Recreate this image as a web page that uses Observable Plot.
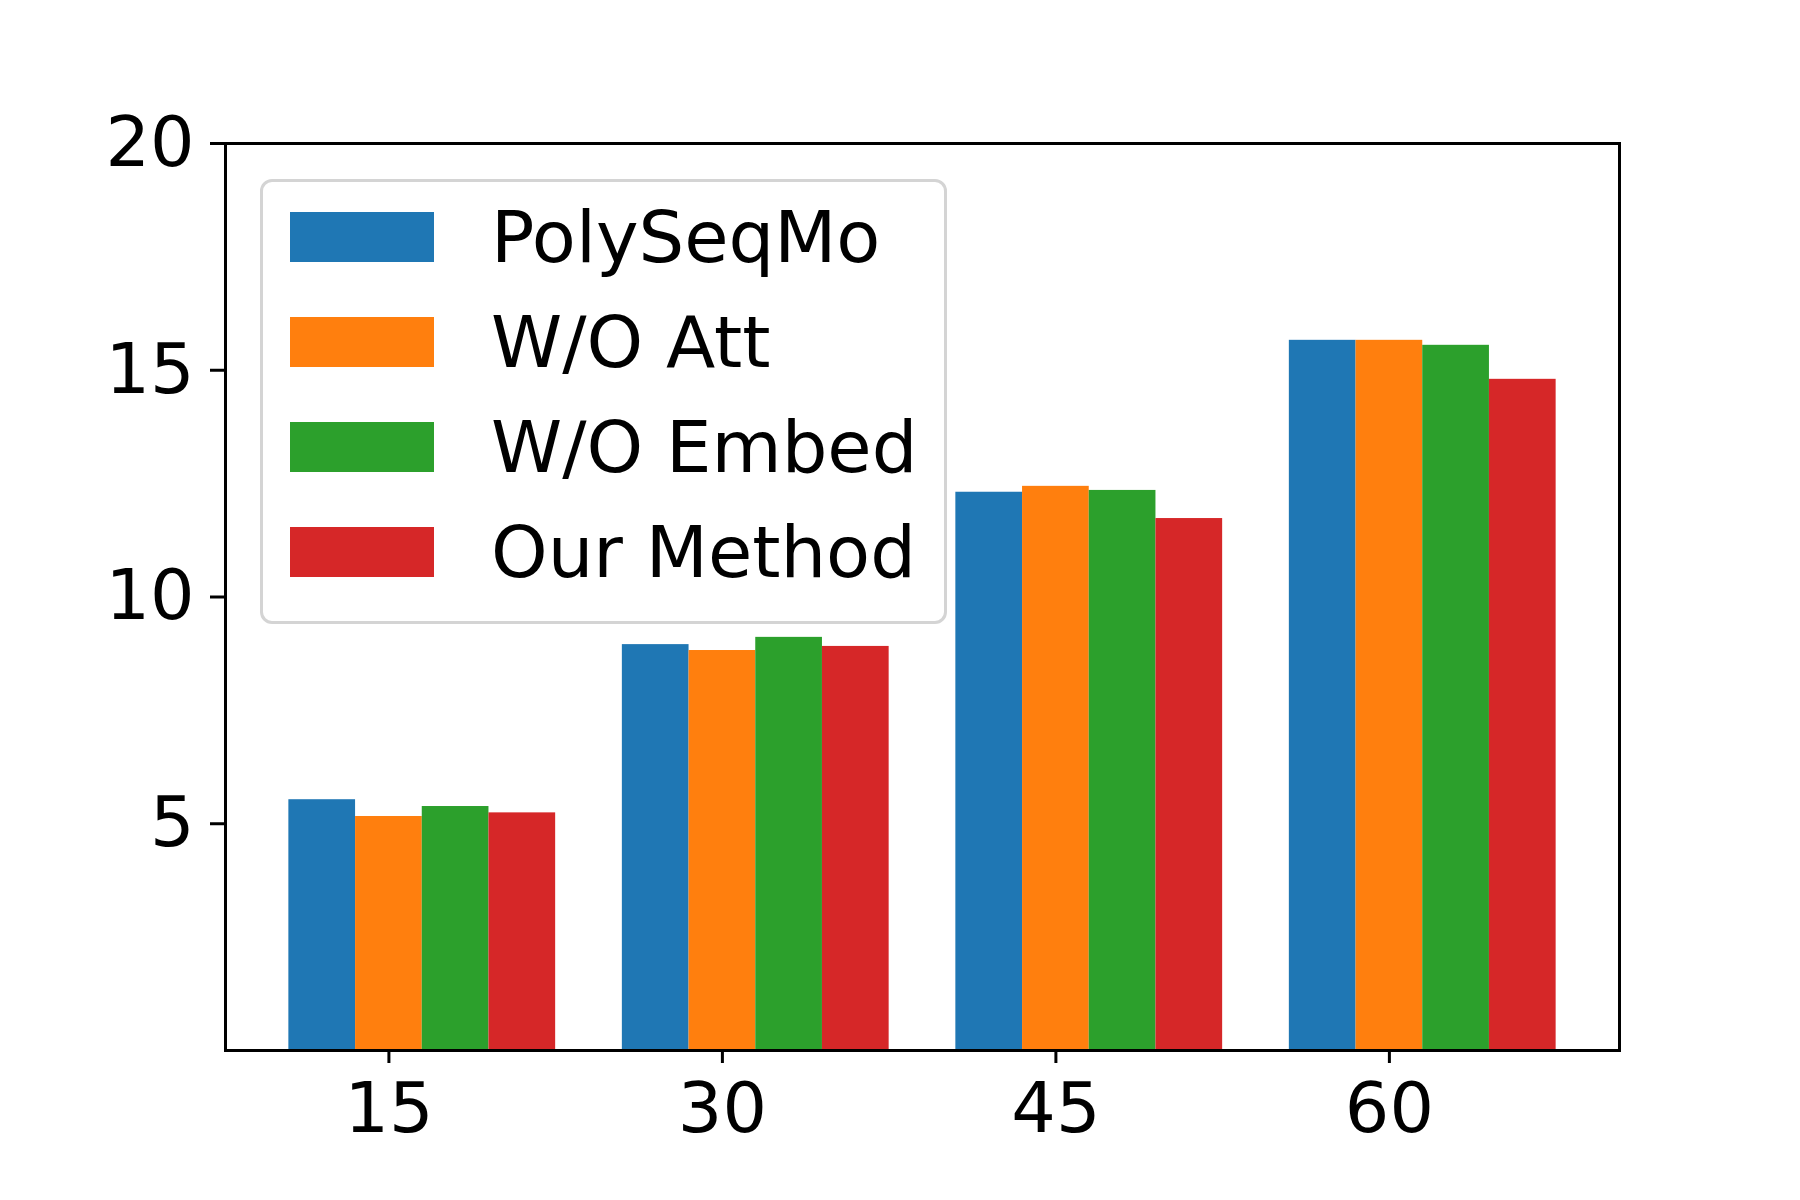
<!DOCTYPE html>
<html>
<head>
<meta charset="utf-8">
<script src="https://cdn.jsdelivr.net/npm/d3@7"></script>
<script src="https://cdn.jsdelivr.net/npm/@observablehq/plot@0.6"></script>
<style>
  html, body { margin: 0; padding: 0; background: #fff; }
  #wrap { position: relative; width: 1800px; height: 1200px; font-family: "DejaVu Sans", sans-serif; }
  #legend { position: absolute; left: 260px; top: 179px; width: 681px; height: 439px;
            border: 3px solid #d4d4d4; border-radius: 12px; background: rgba(255,255,255,0.8); box-sizing: content-box; }
  .row { position: absolute; left: 0; height: 104px; width: 100%; }
  .sw { position: absolute; left: 27px; width: 144px; height: 50px; }
  .lb { position: absolute; left: 228px; font-size: 72px; line-height: 72px; color: #000; white-space: nowrap; }
</style>
</head>
<body>
<div id="wrap"><div id="chart"></div><div id="legend"></div></div>
<script>
const groups = ["15", "30", "45", "60"];
const seriesNames = ["PolySeqMo", "W/O Att", "W/O Embed", "Our Method"];
const colors = ["#1f77b4", "#ff7f0e", "#2ca02c", "#d62728"];
const polySeqMo = [5.53, 8.95, 12.31, 15.66];
const woAtt     = [5.16, 8.82, 12.44, 15.66];
const woEmbed   = [5.38, 9.11, 12.35, 15.55];
const ourMethod = [5.24, 8.91, 11.73, 14.80];
const yTicks = [5, 10, 15, 20];

const seriesValues = [polySeqMo, woAtt, woEmbed, ourMethod];
const barWidth = 0.2;
const rows = [];
seriesValues.forEach((vals, j) => {
  vals.forEach((v, i) => {
    const c = i + (j - 1) * barWidth;
    rows.push({series: seriesNames[j], x1: c - barWidth / 2, x2: c + barWidth / 2, value: v});
  });
});

const chart = Plot.plot({
  width: 1800,
  height: 1200,
  marginLeft: 225,
  marginRight: 181,
  marginTop: 143,
  marginBottom: 150,
  style: {fontFamily: "DejaVu Sans, sans-serif", fontSize: "70px", background: "white", color: "black"},
  x: {type: "linear", domain: [-0.49, 3.69]},
  y: {type: "linear", domain: [0, 20]},
  color: {domain: seriesNames, range: colors},
  marks: [
    Plot.rectY(rows, {x1: "x1", x2: "x2", y1: 0, y2: "value", fill: "series", inset: 0}),
    Plot.frame({stroke: "black", strokeWidth: 3}),
    Plot.axisX({ticks: [0, 1, 2, 3], tickFormat: i => groups[i], tickSize: 13, tickPadding: 19,
                strokeWidth: 3, fontSize: 70, label: null}),
    Plot.axisY({ticks: yTicks, tickSize: 15, tickPadding: 16, strokeWidth: 3, fontSize: 70, label: null})
  ]
});
document.getElementById("chart").appendChild(chart);

const legend = document.getElementById("legend");
seriesNames.forEach((name, j) => {
  const row = document.createElement("div");
  row.className = "row";
  row.style.top = (30 + j * 105) + "px";
  const sw = document.createElement("div");
  sw.className = "sw";
  sw.style.top = "0px";
  sw.style.background = colors[j];
  const lb = document.createElement("div");
  lb.className = "lb";
  lb.style.top = "-11px";
  lb.textContent = name;
  row.appendChild(sw);
  row.appendChild(lb);
  legend.appendChild(row);
});
</script>
</body>
</html>
